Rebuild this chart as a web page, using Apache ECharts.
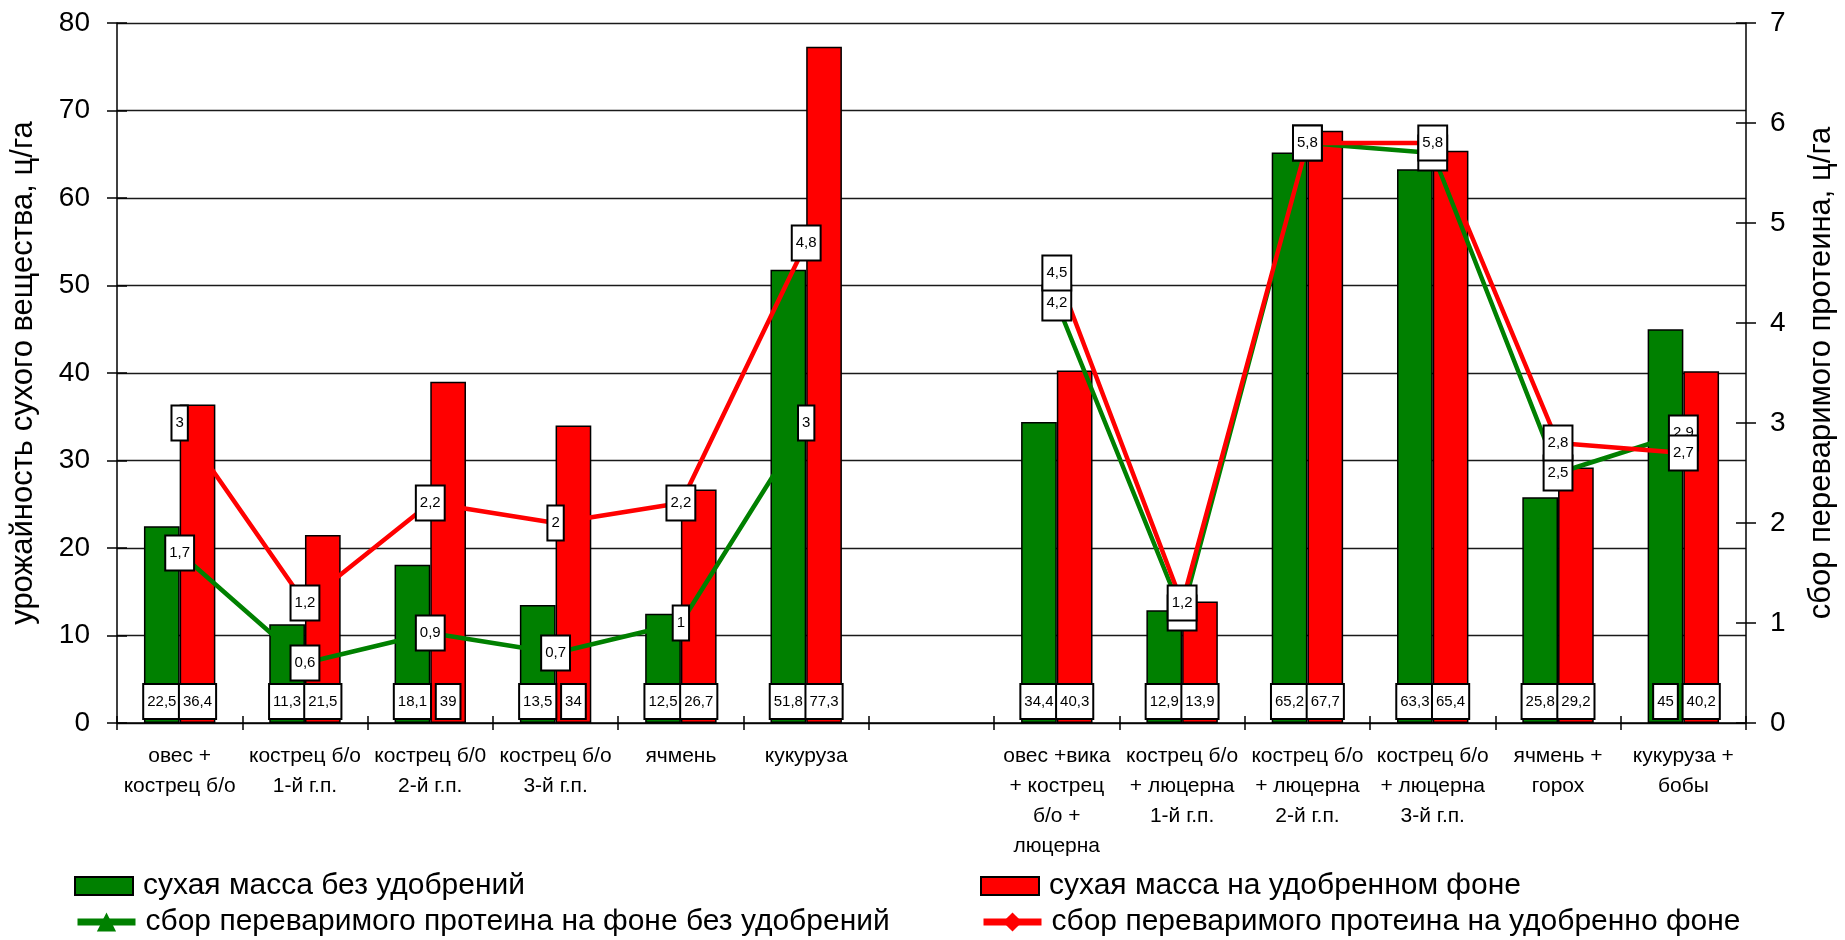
<!DOCTYPE html>
<html>
<head>
<meta charset="utf-8">
<script src="https://cdn.jsdelivr.net/npm/echarts@6/dist/echarts.min.js"></script>
<style>
  html, body { margin: 0; padding: 0; background: #fff; }
  #chart { width: 1845px; height: 940px; }
</style>
</head>
<body>
<div id="chart"></div>
<script>
// categories (7th slot is an empty spacer between the two groups)
const categories = [
    'овес +\nкострец б/о',
    'кострец б/о\n1-й г.п.',
    'кострец б/0\n2-й г.п.',
    'кострец б/о\n3-й г.п.',
    'ячмень',
    'кукуруза',
    '',
    'овес +вика\n+ кострец\nб/о +\nлюцерна',
    'кострец б/о\n+ люцерна\n1-й г.п.',
    'кострец б/о\n+ люцерна\n2-й г.п.',
    'кострец б/о\n+ люцерна\n3-й г.п.',
    'ячмень +\nгорох',
    'кукуруза +\nбобы'
];

// dry mass, c/ha (left axis)
const massNoFert = [22.5, 11.3, 18.1, 13.5, 12.5, 51.8, null, 34.4, 12.9, 65.2, 63.3, 25.8, 45];
const massFert = [36.4, 21.5, 39, 34, 26.7, 77.3, null, 40.3, 13.9, 67.7, 65.4, 29.2, 40.2];

// digestible protein, c/ha (right axis)
const proteinNoFert = [1.7, 0.6, 0.9, 0.7, 1, 3, null, 4.2, 1.1, 5.8, 5.7, 2.5, 2.9];
const proteinFert = [3, 1.2, 2.2, 2, 2.2, 4.8, null, 4.5, 1.2, 5.8, 5.8, 2.8, 2.7];

const seriesNames = [
    'сухая масса без удобрений',
    'сухая масса на удобренном фоне',
    'сбор переваримого протеина на фоне без удобрений',
    'сбор переваримого протеина на удобренно фоне'
];

const leftTicks = { min: 0, max: 80, interval: 10 };
const rightTicks = { min: 0, max: 7, interval: 1 };

const FONT = '"Liberation Sans", Arial, sans-serif';
const GREEN = '#008000';
const RED = '#ff0000';

const comma = v => String(v).replace('.', ',');

const boxLabel = {
    show: true,
    fontFamily: FONT,
    fontSize: 15,
    lineHeight: 15,
    color: '#000',
    backgroundColor: '#fff',
    borderColor: '#000',
    borderWidth: 2,
    padding: [9, 3, 9, 3],
    formatter: p => comma(p.value)
};

const barSeries = (name, data, color) => ({
    name: name,
    type: 'bar',
    data: data,
    barGap: '0%',
    barCategoryGap: '43%',
    itemStyle: { color: color, borderColor: '#000', borderWidth: 1.5 },
    label: Object.assign({}, boxLabel, { position: 'insideBottom', distance: 5 })
});

const lineSeries = (name, data, color, symbol) => ({
    name: name,
    type: 'line',
    yAxisIndex: 1,
    data: data,
    symbol: symbol,
    symbolSize: 16,
    connectNulls: false,
    lineStyle: { color: color, width: 4.5 },
    itemStyle: { color: color },
    label: Object.assign({}, boxLabel, { position: 'inside' })
});

// one legend block per entry, laid out as a 2x2 grid
const legendItem = (name, left, top, itemHeight, icon) => {
    const lg = {
        left: left,
        top: top,
        itemWidth: 58,
        itemHeight: itemHeight,
        selectedMode: false,
        lineStyle: { width: 7 },
        textStyle: { fontFamily: FONT, fontSize: 30, lineHeight: 30, color: '#000', padding: [0, 0, 0, 5] },
        data: [name]
    };
    if (icon) lg.icon = icon;
    return lg;
};

const chart = echarts.init(document.getElementById('chart'));

chart.setOption({
    animation: false,
    backgroundColor: '#fff',
    textStyle: { fontFamily: FONT, color: '#000' },
    grid: { left: 115, right: 93, top: 23, bottom: 217 },
    legend: [
        legendItem(seriesNames[0], 69, 866, 18, 'rect'),
        legendItem(seriesNames[2], 69, 902, 24),
        legendItem(seriesNames[1], 975, 866, 18, 'rect'),
        legendItem(seriesNames[3], 975, 902, 24)
    ],
    xAxis: [
        {
            type: 'category',
            position: 'bottom',
            data: categories,
            axisLine: { lineStyle: { color: '#000', width: 1.5 } },
            axisTick: { show: true, length: 7, lineStyle: { color: '#000', width: 1.5 } },
            axisLabel: {
                interval: 0, margin: 18, fontFamily: FONT, fontSize: 21,
                lineHeight: 30, color: '#000', verticalAlign: 'top'
            },
            splitLine: { show: false }
        },
        {
            // inner half of the crossing ticks
            type: 'category',
            position: 'bottom',
            data: categories,
            axisLine: { show: false },
            axisTick: { show: true, inside: true, length: 7, lineStyle: { color: '#000', width: 1.5 } },
            axisLabel: { show: false },
            splitLine: { show: false }
        }
    ],
    yAxis: [
        {
            type: 'value',
            position: 'left',
            min: leftTicks.min, max: leftTicks.max, interval: leftTicks.interval,
            name: 'урожайность сухого вещества, ц/га',
            nameLocation: 'middle',
            nameGap: 78,
            nameTextStyle: { fontFamily: FONT, fontSize: 31, color: '#000' },
            axisLine: { show: true, lineStyle: { color: '#000', width: 1.5 } },
            axisTick: { show: true, length: 10, lineStyle: { color: '#000', width: 1.5 } },
            axisLabel: { fontFamily: FONT, fontSize: 28, color: '#000', margin: 27 },
            splitLine: { show: true, lineStyle: { color: '#1a1a1a', width: 1.3 } }
        },
        {
            type: 'value',
            position: 'right',
            min: rightTicks.min, max: rightTicks.max, interval: rightTicks.interval,
            name: 'сбор переваримого протеина, ц/га',
            nameLocation: 'middle',
            nameGap: 60,
            nameTextStyle: { fontFamily: FONT, fontSize: 31, color: '#000' },
            axisLine: { show: true, lineStyle: { color: '#000', width: 1.5 } },
            axisTick: { show: true, length: 10, lineStyle: { color: '#000', width: 1.5 } },
            axisLabel: { fontFamily: FONT, fontSize: 28, color: '#000', margin: 24 },
            splitLine: { show: false }
        },
        {
            type: 'value',
            position: 'left',
            min: leftTicks.min, max: leftTicks.max, interval: leftTicks.interval,
            axisLine: { show: false },
            axisTick: { show: true, inside: true, length: 10, lineStyle: { color: '#000', width: 1.5 } },
            axisLabel: { show: false },
            splitLine: { show: false }
        },
        {
            type: 'value',
            position: 'right',
            min: rightTicks.min, max: rightTicks.max, interval: rightTicks.interval,
            axisLine: { show: false },
            axisTick: { show: true, inside: true, length: 10, lineStyle: { color: '#000', width: 1.5 } },
            axisLabel: { show: false },
            splitLine: { show: false }
        }
    ],
    series: [
        barSeries(seriesNames[0], massNoFert, GREEN),
        barSeries(seriesNames[1], massFert, RED),
        lineSeries(seriesNames[2], proteinNoFert, GREEN, 'triangle'),
        lineSeries(seriesNames[3], proteinFert, RED, 'diamond')
    ]
});
</script>
</body>
</html>
